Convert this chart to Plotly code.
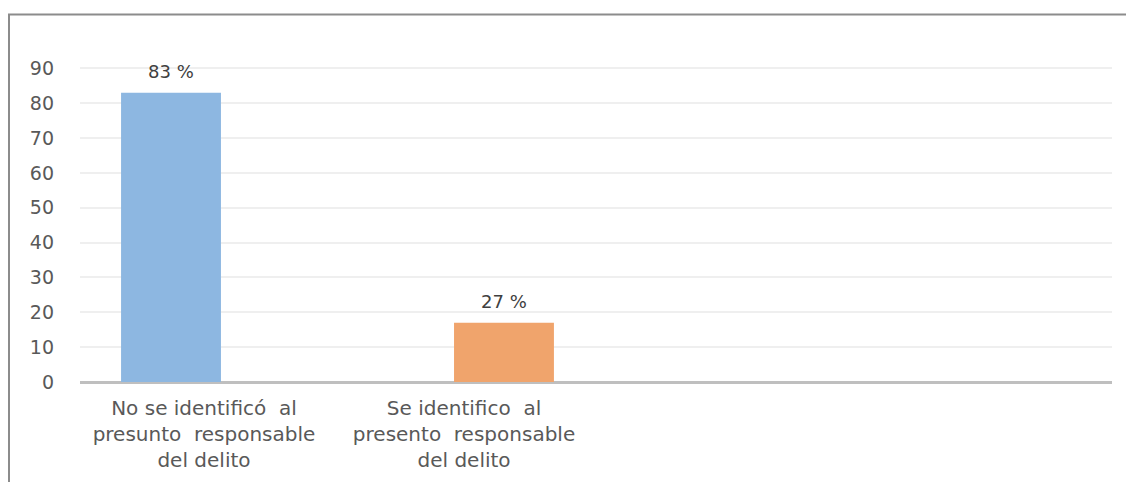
import plotly.graph_objects as go

categories = ["No se identificó\u00a0 al<br>presunto\u00a0 responsable<br>del delito",
              "Se identifico\u00a0 al<br>presento\u00a0 responsable<br>del delito"]
positions = [0, 1]
values = [83, 17]
value_labels = ["83 %", "27 %"]
colors = ["#8DB7E1", "#F0A46C"]
tick_positions = [0.099, 0.88]
y_ticks = [0, 10, 20, 30, 40, 50, 60, 70, 80, 90]

fig = go.Figure()
fig.add_trace(go.Bar(
    x=positions, y=values, width=0.3,
    marker=dict(color=colors, line=dict(width=0)),
    hoverinfo="skip",
))

for xp, v, t in zip(positions, values, value_labels):
    fig.add_annotation(x=xp, y=v, text=t, showarrow=False, yshift=21,
                       font=dict(family="DejaVu Sans", size=18, color="#404040"))

# page body has an 8px margin, so figure is offset by 8px
OFF = 8
W, H = 1134 - OFF, 482 - OFF
L, R, T, B = 80 - OFF, 22, 68 - OFF - 3.5, 100
pw, ph = W - L - R, H - T - B

fig.add_shape(type="rect", xref="paper", yref="paper",
              x0=(9 - OFF - L) / pw, x1=(W + 10 - L) / pw,
              y0=(H - B - (H + 10)) / ph, y1=(H - B - (14 - OFF)) / ph,
              line=dict(color="#8C8C8C", width=2), fillcolor="rgba(0,0,0,0)")

fig.update_layout(
    width=W, height=H,
    margin=dict(l=L, r=R, t=T, b=B, autoexpand=False),
    paper_bgcolor="white", plot_bgcolor="white",
    showlegend=False,
    xaxis=dict(range=[-0.2733, 2.826], tickmode="array",
               tickvals=tick_positions, ticktext=categories,
               showgrid=False, zeroline=False, showline=False, ticks="",
               ticklabelstandoff=12,
               tickfont=dict(family="DejaVu Sans", size=20, color="#595959")),
    yaxis=dict(range=[0, 91], tickmode="array", tickvals=y_ticks,
               showgrid=True, gridcolor="#EFEFEF", gridwidth=1.5,
               zeroline=True, zerolinecolor="#BFBFBF", zerolinewidth=3,
               showline=False, ticks="", ticklabelstandoff=25,
               tickfont=dict(family="DejaVu Sans", size=19, color="#595959")),
)

fig.write_html("out.html")
